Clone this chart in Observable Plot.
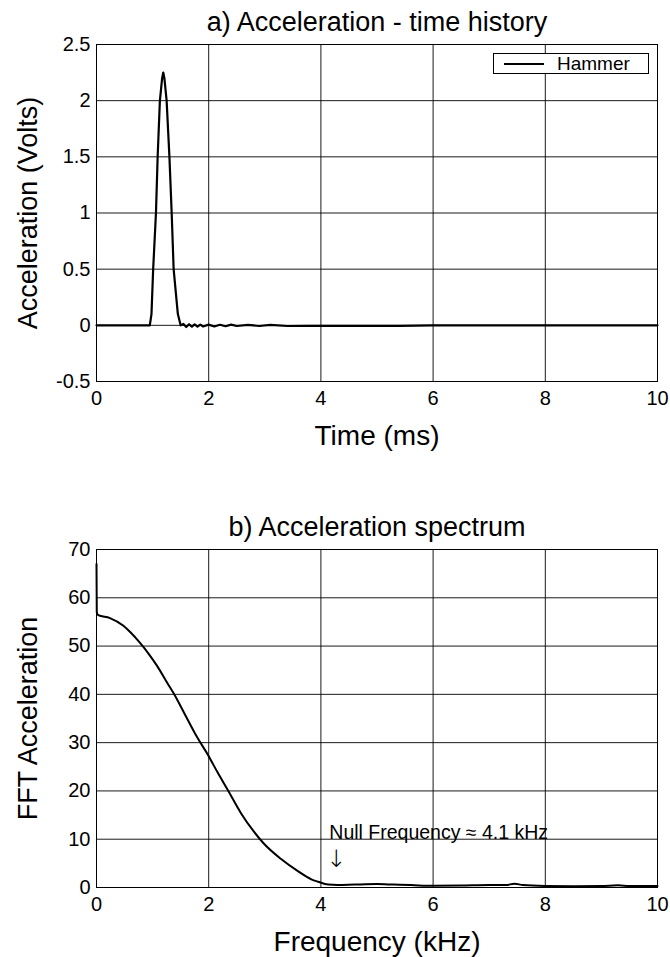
<!DOCTYPE html>
<html>
<head>
<meta charset="utf-8">
<script src="https://cdn.jsdelivr.net/npm/d3@7"></script>
<script src="https://cdn.jsdelivr.net/npm/@observablehq/plot@0.6"></script>
<style>
  html, body { margin: 0; padding: 0; background: #fff; }
  #wrap { position: relative; width: 670px; height: 957px; background: #fff; font-family: "Liberation Sans", Arial, sans-serif; }
  #wrap svg { display: block; }
  #legend { position: absolute; left: 493px; top: 53px; width: 154px; height: 19px; border: 1px solid #000; background: #fff; }
  #legend .ln { position: absolute; left: 10px; top: 9px; width: 40px; height: 2px; background: #000; }
  #legend .tx { position: absolute; left: 63px; top: -1px; font-size: 19px; line-height: 21px; color: #000; }
</style>
</head>
<body>
<div id="wrap"></div>
<script>
// ---- Data (a) acceleration time history ----
const timeMs = [0, 0.5, 0.95, 0.98, 1.01, 1.06, 1.09, 1.13, 1.17, 1.19, 1.21, 1.25, 1.30, 1.34, 1.375, 1.45, 1.50,
  1.55, 1.60, 1.65, 1.70, 1.75, 1.80, 1.85, 1.90, 2.00, 2.10, 2.20, 2.30, 2.40, 2.50, 2.70, 2.90, 3.10, 3.40, 3.80, 4.20, 4.60, 5.00, 5.40, 6.00, 8.00, 10.00];
const hammerVolts = [0, 0, 0, 0.1, 0.5, 1.0, 1.5, 2.0, 2.2, 2.25, 2.2, 2.0, 1.5, 1.0, 0.5, 0.1, 0.0,
  0.012, -0.015, 0.01, -0.012, 0.008, -0.012, 0.006, -0.01, 0.006, -0.01, 0.005, -0.008, 0.006, -0.006, 0.004, -0.006, 0.004, -0.006, -0.005, -0.005, -0.004, -0.004, -0.004, 0, 0, 0];
const timeTicks = [0, 2, 4, 6, 8, 10];
const voltTicks = [-0.5, 0, 0.5, 1, 1.5, 2, 2.5];
const seriesName = "Hammer";
const titleA = "a) Acceleration - time history";
const xLabelA = "Time (ms)";
const yLabelA = "Acceleration (Volts)";

// ---- Data (b) acceleration spectrum ----
const freqKHz = [0, 0.005, 0.03, 0.24, 0.48, 0.60, 0.78, 0.93, 1.08, 1.26, 1.38, 1.56, 1.80, 1.98, 2.16, 2.34, 2.57, 2.81, 2.99, 3.29, 3.59, 3.83, 3.95, 4.13,
  4.30, 4.60, 5.00, 5.30, 5.60, 6.00, 6.50, 7.00, 7.30, 7.45, 7.60, 8.00, 8.50, 9.00, 9.30, 9.50, 10.00];
const fftAcceleration = [67, 57, 56.4, 55.8, 54.2, 52.9, 50.6, 48.4, 45.9, 42.4, 40.1, 36.2, 31.0, 27.6, 23.8, 20.2, 15.5, 11.5, 9.0, 5.9, 3.4, 1.7, 1.2, 0.6,
  0.5, 0.6, 0.7, 0.6, 0.5, 0.35, 0.4, 0.5, 0.5, 0.8, 0.5, 0.3, 0.25, 0.3, 0.45, 0.3, 0.3];
const freqTicks = [0, 2, 4, 6, 8, 10];
const fftTicks = [0, 10, 20, 30, 40, 50, 60, 70];
const titleB = "b) Acceleration spectrum";
const xLabelB = "Frequency (kHz)";
const yLabelB = "FFT Acceleration";
const noteText = [{f: 4.15, v: 10, label: "Null Frequency \u2248 4.1 kHz"}];
const noteArrow = [{f: 4.27, v: 5.8, label: "\u2193"}];

const FONT = "'Liberation Sans', Arial, Helvetica, sans-serif";
const gridStyle = {stroke: "#000", strokeOpacity: 0.9, strokeWidth: 1};

const hammer = timeMs.map((t, i) => ({t, v: hammerVolts[i]}));
const spectrum = freqKHz.map((f, i) => ({f, v: fftAcceleration[i]}));

const plotA = Plot.plot({
  width: 670, height: 480,
  marginTop: 44, marginBottom: 99, marginLeft: 96, marginRight: 13,
  style: {fontFamily: FONT, fontSize: "20px", color: "#000", background: "#fff", overflow: "visible"},
  x: {domain: [0, 10], label: null},
  y: {domain: [-0.5, 2.5], label: null},
  marks: [
    Plot.gridX(timeTicks, gridStyle),
    Plot.gridY(voltTicks, gridStyle),
    Plot.frame({stroke: "#000", strokeWidth: 1}),
    Plot.axisX(timeTicks, {tickSize: 0, tickPadding: 9, tickFormat: d => String(d), label: null, fontSize: 20}),
    Plot.axisY(voltTicks, {tickSize: 0, tickPadding: 6, tickFormat: d => String(d), label: null, fontSize: 20}),
    Plot.line(hammer, {x: "t", y: "v", stroke: "#000", strokeWidth: 2.2}),
    Plot.text([titleA], {text: d => d, frameAnchor: "top", textAnchor: "middle", lineAnchor: "bottom", dy: -14, fontSize: 27}),
    Plot.text([xLabelA], {text: d => d, frameAnchor: "bottom", textAnchor: "middle", lineAnchor: "bottom", dy: 63, fontSize: 28}),
    Plot.text([yLabelA], {text: d => d, frameAnchor: "left", textAnchor: "middle", lineAnchor: "bottom", rotate: -90, dx: -60, fontSize: 27})
  ]
});

const plotB = Plot.plot({
  width: 670, height: 477,
  marginTop: 69, marginBottom: 70, marginLeft: 96, marginRight: 13,
  style: {fontFamily: FONT, fontSize: "20px", color: "#000", background: "#fff", overflow: "visible"},
  x: {domain: [0, 10], label: null},
  y: {domain: [0, 70], label: null},
  marks: [
    Plot.gridX(freqTicks, gridStyle),
    Plot.gridY(fftTicks, gridStyle),
    Plot.frame({stroke: "#000", strokeWidth: 1}),
    Plot.axisX(freqTicks, {tickSize: 0, tickPadding: 9, tickFormat: d => String(d), label: null, fontSize: 20}),
    Plot.axisY(fftTicks, {tickSize: 0, tickPadding: 6, tickFormat: d => String(d), label: null, fontSize: 20}),
    Plot.line(spectrum, {x: "f", y: "v", stroke: "#000", strokeWidth: 2, curve: "monotone-x"}),
    Plot.text(noteText, {x: "f", y: "v", text: "label", textAnchor: "start", lineAnchor: "bottom", fontSize: 19.5}),
    Plot.text(noteArrow, {x: "f", y: "v", text: "label", textAnchor: "middle", lineAnchor: "middle", fontSize: 24, fontFamily: "'DejaVu Sans', sans-serif", fontWeight: 300}),
    Plot.text([titleB], {text: d => d, frameAnchor: "top", textAnchor: "middle", lineAnchor: "bottom", dy: -14, fontSize: 27}),
    Plot.text([xLabelB], {text: d => d, frameAnchor: "bottom", textAnchor: "middle", lineAnchor: "bottom", dy: 63, fontSize: 28}),
    Plot.text([yLabelB], {text: d => d, frameAnchor: "left", textAnchor: "middle", lineAnchor: "bottom", rotate: -90, dx: -60, fontSize: 27})
  ]
});

const wrap = document.getElementById("wrap");
wrap.appendChild(plotA);
wrap.appendChild(plotB);

const legend = document.createElement("div");
legend.id = "legend";
legend.innerHTML = '<div class="ln"></div><div class="tx"></div>';
legend.querySelector(".tx").textContent = seriesName;
wrap.appendChild(legend);
</script>
</body>
</html>
